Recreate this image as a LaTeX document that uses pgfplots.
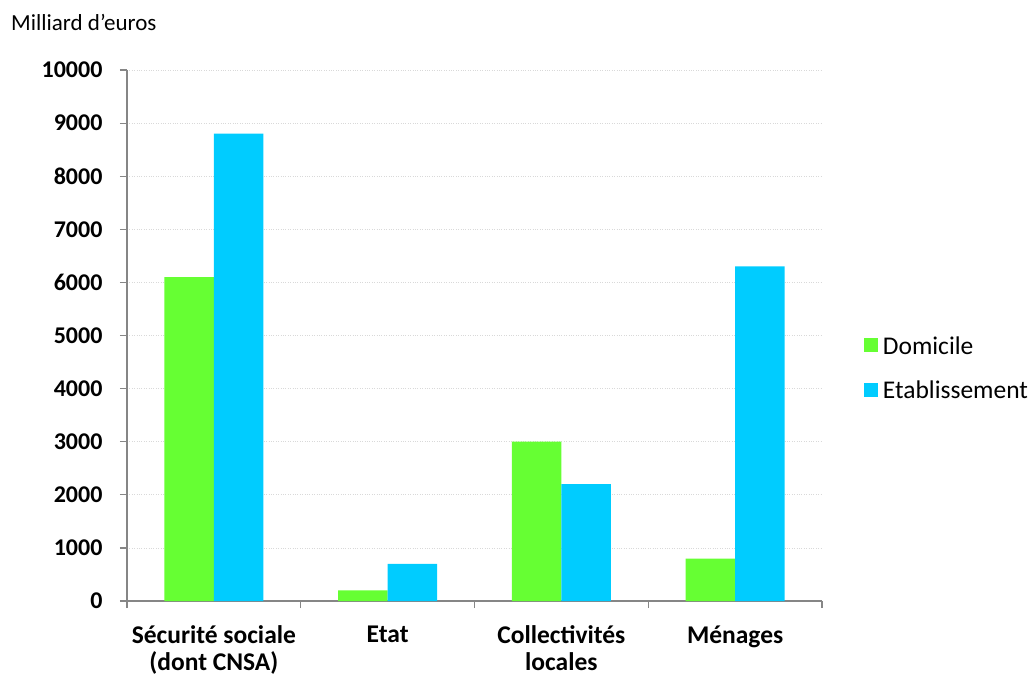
\documentclass[border=0pt]{standalone}
\usepackage{pgfplots}
\pgfplotsset{compat=1.18}
\usepackage{fontspec}
\setmainfont{Carlito}
\definecolor{dom}{HTML}{66FF33}
\definecolor{eta}{HTML}{00CCFF}
\definecolor{axg}{HTML}{868686}
\definecolor{grd}{HTML}{D9D9D9}
\begin{document}
\begin{tikzpicture}
\useasboundingbox (0pt,0pt) rectangle (1031pt,-675pt);
\node[anchor=west, inner sep=0pt, font=\fontsize{23}{27}\selectfont] at (11pt,-22pt) {Milliard d’euros};
\begin{axis}[
  at={(127pt,-601pt)}, anchor=south west,
  scale only axis, width=695pt, height=531pt,
  ybar=0pt, bar width=49.5pt,
  xmin=-0.5, xmax=3.5, ymin=0, ymax=10000,
  axis x line*=bottom, axis y line*=left,
  axis line style={draw=axg, line width=1.2pt},
  xtick={0,1,2,3},
  xticklabels={{Sécurité sociale\\(dont CNSA)}, Etat, {Collectivités\\locales}, Ménages},
  minor xtick={-0.5,0.5,1.5,2.5,3.5},
  major x tick style={draw=none},
  minor x tick style={draw=axg, line width=1.2pt},
  minor tick length=7pt,
  ytick distance=1000,
  major y tick style={draw=axg, line width=1.2pt},
  major tick length=7pt,
  tick align=outside,
  ymajorgrids, grid style={grd, dotted, line width=0.8pt},
  scaled y ticks=false,
  /pgf/number format/1000 sep={},
  /pgf/number format/assume math mode=true,
  yticklabel style={font=\fontsize{24}{28}\selectfont\bfseries, xshift=-14pt},
  xticklabel style={font=\fontsize{25.5}{27}\selectfont\bfseries, align=center, yshift=-14pt},
  legend style={at={(1.0557,0.438)}, anchor=west, draw=none, fill=none,
     row sep=21pt, font=\fontsize{25.5}{30}\selectfont, legend cell align=left,
     /tikz/every odd column/.append style={column sep=3pt}},
  legend image code/.code={\fill[#1,draw=none] (0pt,-6pt) rectangle (14pt,8pt);},
]
\addplot[fill=dom, draw=none] coordinates {(0,6100) (1,200) (2,3000) (3,800)};
\addplot[fill=eta, draw=none] coordinates {(0,8800) (1,700) (2,2200) (3,6300)};
\legend{Domicile, Etablissement}
\end{axis}
\end{tikzpicture}
\end{document}
